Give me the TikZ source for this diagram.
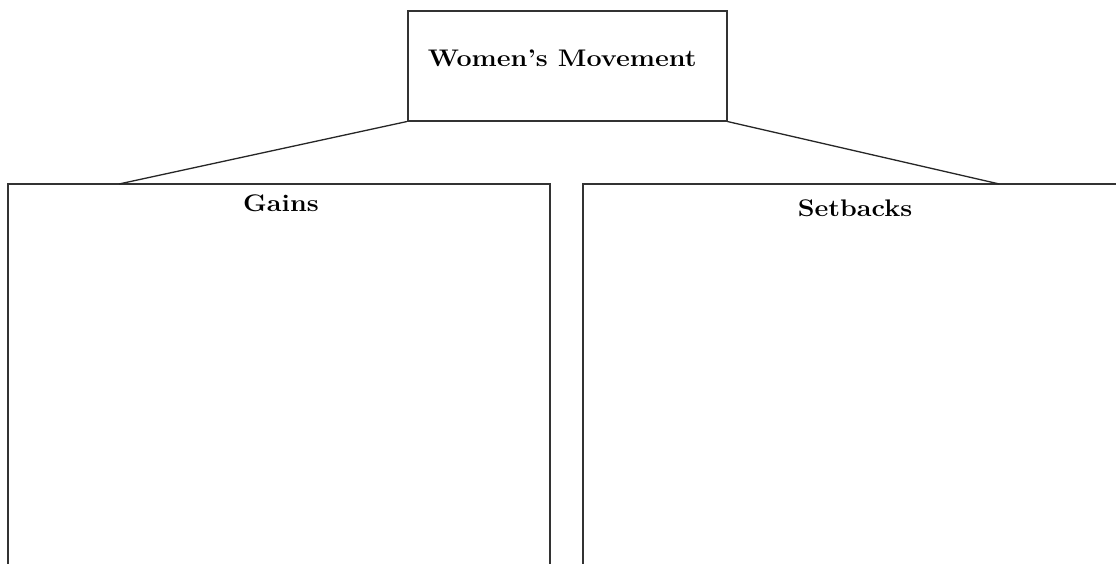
\documentclass[tikz,border=0pt]{standalone}
\usepackage{fontspec}
\usepackage{graphicx}
\begin{document}
\begin{tikzpicture}[x=1pt,y=-1pt,
  frame/.style={draw=black!80,line width=1.7pt},
  conn/.style={draw=black!85,line width=1.3pt},
  title/.style={font=\fontsize{24}{28}\selectfont\bfseries,inner sep=0pt,anchor=base}]
\useasboundingbox (0,0) rectangle (1116,564);
\clip (0,0) rectangle (1116,564);
\fill[white] (0,0) rectangle (1116,564);
% top box
\node[frame,minimum width=319pt,minimum height=110pt,inner sep=0pt] (wm) at (567.2,65.7) {};
\node[title] (wmt) at (562.2,66.7) {\scalebox{1.12}[1]{Women’s Movement}};
% left box (open at bottom)
\draw[frame] (550,600) -- (550,184) -- (7.7,184) -- (7.7,600);
\coordinate (gl) at (119,184);
\node[title] (gains) at (281,211.7) {\scalebox{1.12}[1]{Gains}};
% right box (open at bottom and right)
\draw[frame] (1140,184) -- (583.3,184) -- (583.3,600);
\coordinate (sr) at (999.3,184);
\node[title] (setb) at (855,216.7) {\scalebox{1.12}[1]{Setbacks}};
% connectors
\draw[conn] (wm.south west) -- (gl);
\draw[conn] (wm.south east) -- (sr);
\end{tikzpicture}
\end{document}
